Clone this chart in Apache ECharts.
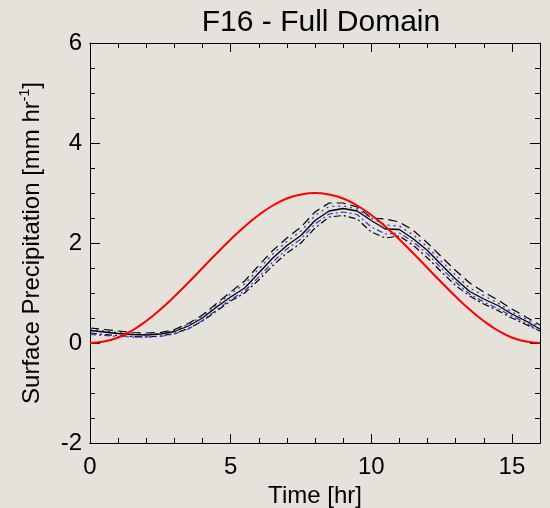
<!DOCTYPE html>
<html>
<head>
<meta charset="utf-8">
<script src="https://cdn.jsdelivr.net/npm/echarts@6/dist/echarts.min.js"></script>
<style>
  html, body { margin: 0; padding: 0; background: #e5e2dc; }
  #main { width: 550px; height: 508px; }
</style>
</head>
<body>
<div id="main"></div>
<script>
// time axis, every half hour
var times = [0, 0.5, 1, 1.5, 2, 2.5, 3, 3.5, 4, 4.5, 5, 5.5, 6, 6.5, 7, 7.5, 8,
  8.5, 9, 9.5, 10, 10.5, 11, 11.5, 12, 12.5, 13, 13.5, 14, 14.5, 15, 15.5, 16]

// prescribed forcing (red)
var forcing = [0, 0.03, 0.11, 0.25, 0.44, 0.67, 0.93, 1.21, 1.5, 1.79, 2.07, 2.33, 2.56, 2.75, 2.89, 2.97, 3.0,
  2.97, 2.89, 2.75, 2.56, 2.33, 2.07, 1.79, 1.5, 1.21, 0.93, 0.67, 0.44, 0.25, 0.11, 0.03, 0]

// model runs
var runMean = [0.25, 0.22, 0.19, 0.17, 0.16, 0.18, 0.23, 0.34, 0.5, 0.72, 0.92, 1.1, 1.4, 1.7, 1.95, 2.15, 2.45,
  2.64, 2.69, 2.64, 2.45, 2.28, 2.27, 2.08, 1.85, 1.56, 1.28, 1.03, 0.88, 0.75, 0.58, 0.44, 0.28]
var runUpper = [0.3, 0.27, 0.24, 0.21, 0.2, 0.21, 0.27, 0.39, 0.56, 0.79, 1.02, 1.24, 1.55, 1.85, 2.1, 2.32, 2.62,
  2.8, 2.8, 2.72, 2.5, 2.48, 2.42, 2.25, 2.0, 1.72, 1.45, 1.2, 1.02, 0.86, 0.68, 0.52, 0.36]
var runLower = [0.2, 0.17, 0.15, 0.13, 0.12, 0.14, 0.19, 0.29, 0.44, 0.64, 0.84, 1.0, 1.26, 1.55, 1.8, 2.0, 2.3,
  2.52, 2.55, 2.48, 2.22, 2.1, 2.14, 1.95, 1.7, 1.42, 1.15, 0.94, 0.78, 0.65, 0.5, 0.37, 0.24]
var runBlueA = [0.28, 0.24, 0.21, 0.18, 0.17, 0.19, 0.25, 0.37, 0.54, 0.76, 0.98, 1.18, 1.48, 1.78, 2.03, 2.24, 2.55,
  2.73, 2.74, 2.68, 2.5, 2.36, 2.34, 2.16, 1.92, 1.63, 1.36, 1.1, 0.95, 0.8, 0.62, 0.48, 0.32]
var runBlueB = [0.17, 0.15, 0.13, 0.12, 0.12, 0.13, 0.18, 0.28, 0.45, 0.66, 0.87, 1.04, 1.32, 1.62, 1.88, 2.08, 2.38,
  2.58, 2.62, 2.57, 2.32, 2.18, 2.2, 2.02, 1.78, 1.49, 1.22, 0.98, 0.82, 0.69, 0.54, 0.4, 0.24]

var font = "'Liberation Sans', Arial, sans-serif"

function pairs(vals) {
  return times.map(function (t, i) { return [t, vals[i]] })
}

function xAx(pos, step, tickLen, showLabel) {
  return {
    type: 'value', position: pos, min: 0, max: 16, interval: step,
    axisLine: { show: true, onZero: false, lineStyle: { color: '#000', width: 1 } },
    axisTick: { show: true, inside: true, length: tickLen, lineStyle: { color: '#000' } },
    axisLabel: { show: showLabel, color: '#000', fontSize: 24, fontFamily: font, margin: 12,
      formatter: function (v) { return v % 5 === 0 ? String(v) : '' } },
    splitLine: { show: false }
  }
}

function yAx(pos, showLabel) {
  return {
    type: 'value', position: pos, min: -2, max: 6, interval: 2,
    axisLine: { show: true, onZero: false, lineStyle: { color: '#000', width: 1 } },
    axisTick: { show: true, inside: true, length: 10, lineStyle: { color: '#000' } },
    minorTick: { show: true, splitNumber: 4, length: 5, lineStyle: { color: '#000' } },
    axisLabel: { show: showLabel, color: '#000', fontSize: 24, fontFamily: font, margin: 8 },
    splitLine: { show: false }
  }
}

var bottomMajor = xAx('bottom', 5, 9, true)
bottomMajor.name = 'Time [hr]'
bottomMajor.nameLocation = 'middle'
bottomMajor.nameGap = 40
bottomMajor.nameTextStyle = { color: '#000', fontSize: 24, fontFamily: font }

var leftAxis = yAx('left', true)
leftAxis.name = '{a|Surface Precipitation [mm hr}{s|-1}{a|]}'
leftAxis.nameLocation = 'middle'
leftAxis.nameRotate = 90
leftAxis.nameGap = 44
leftAxis.nameTextStyle = {
  color: '#000', fontFamily: font,
  rich: {
    a: { fontSize: 24, color: '#000', fontFamily: font, lineHeight: 28 },
    s: { fontSize: 14, color: '#000', fontFamily: font, verticalAlign: 'top', lineHeight: 28, padding: [0, 0, 10, 0] }
  }
}

function run(name, vals, color, dash, width) {
  return {
    name: name, type: 'line', data: pairs(vals), showSymbol: false, smooth: false,
    lineStyle: { color: color, width: width, type: dash }, z: 3
  }
}

var chart = echarts.init(document.getElementById('main'))
chart.setOption({
  backgroundColor: '#e5e2dc',
  animation: false,
  title: {
    text: 'F16 - Full Domain', left: 316, top: 3, textAlign: 'center',
    textStyle: { color: '#000', fontSize: 30, fontWeight: 'normal', fontFamily: font }
  },
  grid: { left: 90, right: 10, top: 43, bottom: 65, containLabel: false, outerBoundsMode: 'none' },
  xAxis: [bottomMajor, xAx('bottom', 1, 5, false), xAx('top', 5, 9, false), xAx('top', 1, 5, false)],
  yAxis: [leftAxis, yAx('right', false)],
  series: [
    run('upper', runUpper, '#000', [9, 5], 1.2),
    run('lower', runLower, '#000', [7, 3, 2, 3], 1.2),
    run('blueA', runBlueA, '#3333dd', [2, 4], 1.3),
    run('blueB', runBlueB, '#3333dd', [6, 3, 2, 3], 1.2),
    run('mean', runMean, '#000', 'solid', 1.3),
    {
      name: 'forcing', type: 'line', data: pairs(forcing), showSymbol: false, smooth: true,
      lineStyle: { color: '#ff0000', width: 2 }, z: 4
    }
  ]
})
</script>
</body>
</html>
